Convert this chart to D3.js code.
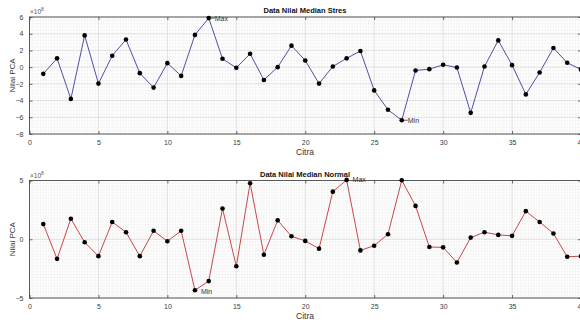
<!DOCTYPE html>
<html><head><meta charset="utf-8">
<script src="https://cdn.jsdelivr.net/npm/d3@7"></script>
<style>body{margin:0;background:#fff;overflow:hidden}svg{display:block}text{font-family:"Liberation Sans",Arial,sans-serif}</style>
</head><body>
<svg id="c" width="580" height="323"></svg>
<script>
const citra = d3.range(1, 41);
const stres = [-0.8,1.05,-3.8,3.8,-1.97,1.37,3.3,-0.72,-2.45,0.48,-1.05,3.86,5.87,1.0,-0.08,1.6,-1.53,0.0,2.57,0.8,
  -1.97,0.08,1.05,1.93,-2.78,-5.1,-6.35,-0.4,-0.24,0.28,-0.04,-5.47,0.08,3.2,0.24,-3.26,-0.64,2.29,0.52,-0.28];
const normal = [1.29,-1.67,1.75,-0.26,-1.44,1.47,0.6,-1.44,0.72,-0.17,0.72,-4.34,-3.56,2.61,-2.3,4.77,-1.32,1.61,0.25,-0.14,
  -0.8,4.05,5.05,-0.95,-0.55,0.43,5.02,2.84,-0.66,-0.69,-1.98,0.14,0.6,0.37,0.29,2.39,1.47,0.49,-1.49,-1.44];
const xTicks = [0,5,10,15,20,25,30,35,40];
const yTicksStres = [-8,-6,-4,-2,0,2,4,6];
const yTicksNormal = [-5,0,5];

const svg = d3.select("#c");
const x = d3.scaleLinear().domain([0,40]).range([29.5,581]);

function panel(cfg){
  const y = d3.scaleLinear().domain(cfg.ydom).range(cfg.yr);
  const g = svg.append("g");
  const [x0,x1] = x.range(); const [yb,yt] = cfg.yr;
  // minor grid
  const mx = d3.range(0,40.001,0.2), my = d3.range(cfg.ydom[0], cfg.ydom[1]+0.001, cfg.minor);
  g.selectAll(".mx").data(mx).join("line").attr("x1",d=>x(d)).attr("x2",d=>x(d)).attr("y1",yt).attr("y2",yb)
    .attr("stroke","#f0f0f0").attr("stroke-width",0.6);
  g.selectAll(".my").data(my).join("line").attr("x1",x0).attr("x2",x1).attr("y1",d=>y(d)).attr("y2",d=>y(d))
    .attr("stroke","#f0f0f0").attr("stroke-width",0.6);
  // major grid
  g.selectAll(".gx").data(xTicks).join("line").attr("x1",d=>x(d)).attr("x2",d=>x(d)).attr("y1",yt).attr("y2",yb)
    .attr("stroke","#dcdcdc").attr("stroke-width",0.8);
  g.selectAll(".gy").data(cfg.yt).join("line").attr("x1",x0).attr("x2",x1).attr("y1",d=>y(d)).attr("y2",d=>y(d))
    .attr("stroke","#dcdcdc").attr("stroke-width",0.8);
  // box
  g.append("rect").attr("x",x0).attr("y",yt).attr("width",x1-x0).attr("height",yb-yt)
    .attr("fill","none").attr("stroke","#3a3a3a").attr("stroke-width",0.8);
  // axes via d3
  const ax = g.append("g").attr("transform",`translate(0,${yb})`)
    .call(d3.axisBottom(x).tickValues(xTicks).tickSize(-3).tickPadding(6).tickFormat(d3.format("d")));
  const axT = g.append("g").attr("transform",`translate(0,${yt})`)
    .call(d3.axisTop(x).tickValues(xTicks).tickSize(-3).tickFormat(""));
  const ay = g.append("g").attr("transform",`translate(${x0},0)`)
    .call(d3.axisLeft(y).tickValues(cfg.yt).tickSize(-3).tickPadding(6).tickFormat(d3.format("d")));
  const ayR = g.append("g").attr("transform",`translate(${x1},0)`)
    .call(d3.axisRight(y).tickValues(cfg.yt).tickSize(-3).tickFormat(""));
  [ax,axT,ay,ayR].forEach(a=>{a.select(".domain").remove();
    a.selectAll("line").attr("stroke","#444").attr("stroke-width",0.8);
    a.selectAll("text").attr("fill","#3c3c3c").style("font-size","7px").style("font-family","Liberation Sans, Arial, sans-serif");});
  // line + points
  g.append("path").datum(cfg.data).attr("fill","none").attr("stroke",cfg.color).attr("stroke-width",1)
    .attr("d", d3.line().x((d,i)=>x(citra[i])).y(d=>y(d)));
  g.selectAll(".pt").data(cfg.data).join("circle").attr("cx",(d,i)=>x(citra[i])).attr("cy",d=>y(d))
    .attr("r",2.3).attr("fill","#000");
  // title etc
  g.append("text").attr("x",305).attr("y",yt-4).attr("text-anchor","middle").style("font-size","7.5px")
    .style("font-weight","bold").attr("fill","#111").text(cfg.title);
  const e = g.append("text").attr("x",x0+0.5).attr("y",yt-3).style("font-size","6.5px").attr("fill","#555");
  e.append("tspan").text("×10");
  e.append("tspan").attr("dy",-3).style("font-size","5px").text("8");
  g.append("text").attr("transform",`translate(15,${(yt+yb)/2}) rotate(-90)`).attr("text-anchor","middle")
    .style("font-size","8px").attr("fill","#333").text("Nilai PCA");
  g.append("text").attr("x",305).attr("y",yb+21).attr("text-anchor","middle")
    .style("font-size","8.5px").attr("fill","#333").text("Citra");
  // annotations
  cfg.ann.forEach(a=>{
    const i = a.fn(cfg.data), px = x(citra[i]), py = y(cfg.data[i]);
    if (a.dash) g.append("line").attr("x1",px+2).attr("x2",px+6).attr("y1",py).attr("y2",py).attr("stroke","#333").attr("stroke-width",0.8);
    g.append("text").attr("x",px+(a.dash?6:6)).attr("y",py+a.dy).style("font-size","7px").attr("fill","#333").text(a.label);
  });
}
const argmax = a=>a.indexOf(d3.max(a)), argmin = a=>a.indexOf(d3.min(a));
panel({data:stres, ydom:[-8,6], yr:[134,17], yt:yTicksStres, minor:0.4, color:"#4f4fa8",
  title:"Data Nilai Median Stres",
  ann:[{fn:argmax,label:"Max",dy:2.5,dash:true},{fn:argmin,label:"Min",dy:2.5,dash:true}]});
panel({data:normal, ydom:[-5,5], yr:[298,180.5], yt:yTicksNormal, minor:0.25, color:"#c84848",
  title:"Data Nilai Median Normal",
  ann:[{fn:argmax,label:"Max",dy:2.5,dash:false},{fn:argmin,label:"Min",dy:4,dash:false}]});
</script>
</body></html>
